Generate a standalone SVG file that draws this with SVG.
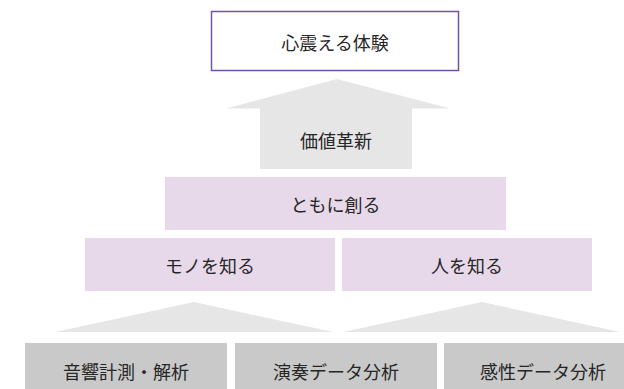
<svg xmlns="http://www.w3.org/2000/svg" width="624" height="389" viewBox="0 0 624 389">
<style>
text{font-family:"Noto Sans CJK JP","Noto Sans",sans-serif;font-size:18px;fill:#262626;text-anchor:middle;dominant-baseline:central}
.p{fill:#e8d9ea}
.g{fill:#c9c9c9}
.a{fill:#e6e6e6}
</style>
<rect width="624" height="389" fill="#ffffff"/>
<g id="connectors">
<polygon class="a" points="337,79 450,108.5 412,108.5 412,169 260,169 260,108.5 226,108.5"/>
<polygon class="a" points="194,302 333,332 55,332"/>
<polygon class="a" points="482,302 620,332 343,332"/>
</g>
<g id="top">
<rect x="211.5" y="11.5" width="247" height="59" fill="#ffffff" stroke="#7452a8" stroke-width="1.5"/>
<text x="335" y="42">心震える体験</text>
</g>
<g id="value">
<text x="336" y="140">価値革新</text>
</g>
<g id="create">
<rect class="p" x="165" y="177" width="341" height="53"/>
<text x="335.5" y="204">ともに創る</text>
</g>
<g id="mono">
<rect class="p" x="85" y="238" width="250" height="53"/>
<text x="210" y="265">モノを知る</text>
</g>
<g id="hito">
<rect class="p" x="342" y="238" width="250" height="53"/>
<text x="467" y="265">人を知る</text>
</g>
<g id="b1">
<rect class="g" x="25" y="343" width="202" height="46"/>
<text x="126" y="371">音響計測・解析</text>
</g>
<g id="b2">
<rect class="g" x="235" y="343" width="202" height="46"/>
<text x="336" y="371">演奏データ分析</text>
</g>
<g id="b3">
<rect class="g" x="444" y="343" width="180" height="46"/>
<text x="543" y="371">感性データ分析</text>
</g>
</svg>
